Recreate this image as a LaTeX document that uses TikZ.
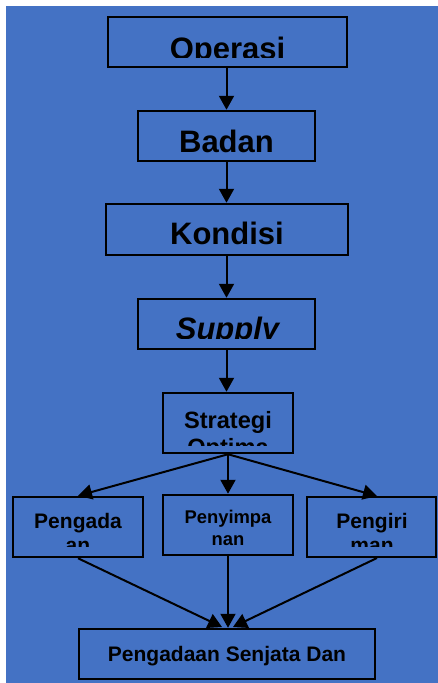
\documentclass[tikz,border=0pt]{standalone}
\usepackage{fontspec}
\setmainfont{Liberation Sans}
\usetikzlibrary{arrows.meta}
\definecolor{bgblue}{HTML}{4472C4}
\begin{document}
\begin{tikzpicture}[x=1pt,y=-1pt,
  box/.style={draw=black, line width=2.5pt, inner sep=0pt},
  arr/.style={draw=black, line width=2pt, -{Triangle[width=15pt,length=14pt]}},
  lbl/.style={inner sep=0pt, anchor=base, text=black},
  bigf/.style={font=\fontsize{31}{36}\selectfont\bfseries},
  stf/.style={font=\fontsize{23.6}{28}\selectfont\bfseries},
  midf/.style={font=\fontsize{21}{25}\selectfont\bfseries},
  smf/.style={font=\fontsize{18.4}{22}\selectfont\bfseries}]
\useasboundingbox (0,0) rectangle (438,683);
\fill[white] (0,0) rectangle (438,683);
\fill[bgblue] (6,6) rectangle (438,683);

% boxes
\node[box, minimum width=239pt, minimum height=50pt] (op) at (227.5,42) {};
\node[box, minimum width=177pt, minimum height=50pt] (bd) at (226.5,136) {};
\node[box, minimum width=242pt, minimum height=51pt] (kd) at (227,229.5) {};
\node[box, minimum width=177pt, minimum height=50pt] (sp) at (226.5,324) {};
\node[box, minimum width=130pt, minimum height=60pt] (st) at (228,423) {};
\node[box, minimum width=130pt, minimum height=60pt] (pa) at (78,527) {};
\node[box, minimum width=130pt, minimum height=60pt] (pn) at (228,525) {};
\node[box, minimum width=129pt, minimum height=60pt] (pg) at (371.5,527) {};
\node[box, minimum width=296pt, minimum height=50pt] (ps) at (227,654) {};

% texts (clipped as in the reference)
\begin{scope}
  \clip (100,10) rectangle (350,57);
  \node[lbl, bigf] (t-op) at (227.5,59) {Operasi};
\end{scope}
\node[lbl, bigf] (t-bd) at (226.5,152.5) {Badan};
\node[lbl, bigf] (t-kd) at (227,244.5) {Kondisi};
\begin{scope}
  \clip (130,290) rectangle (320,338);
  \node[lbl, bigf] (t-sp) at (227.5,339) {\itshape Supply};
\end{scope}
\begin{scope}
  \clip (160,390) rectangle (296,445);
  \node[lbl, stf] (t-st1) at (228,428) {Strategi};
  \node[lbl, stf] (t-st2) at (228,455) {Optima};
\end{scope}
\begin{scope}
  \clip (10,494) rectangle (146,546.5);
  \node[lbl, midf] (t-pa1) at (78,528) {Pengada};
  \node[lbl, midf] (t-pa2) at (78,552) {an};
\end{scope}
\node[lbl, smf] (t-pn1) at (228,523) {Penyimpa};
\node[lbl, smf] (t-pn2) at (228,545) {nan};
\begin{scope}
  \clip (304,494) rectangle (438,546.5);
  \node[lbl, midf] (t-pg1) at (372,528) {Pengiri};
  \node[lbl, midf] (t-pg2) at (372,552) {man};
\end{scope}
\begin{scope}
  \clip (76,626) rectangle (378,681);
  \node[lbl, midf] (t-ps) at (227,661) {Pengadaan Senjata Dan};
\end{scope}

% connectors
\coordinate (pgin) at (377,496);
\coordinate (pgout) at (377,558);
\coordinate (psl) at (222,627);
\coordinate (psr) at (233,627);
\draw[arr] (op.south -| bd.north) -- (bd.north);
\draw[arr] (bd.south) -- (bd.south |- kd.north);
\draw[arr] (bd.south |- kd.south) -- (sp.north);
\draw[arr] (sp.south) -- (sp.south |- st.north);
\draw[arr] (st.south) -- (pa.north);
\draw[arr] (st.south) -- (pn.north);
\draw[arr] (st.south) -- (pgin);
\draw[arr] (pa.south) -- (psl);
\draw[arr] (pn.south) -- (pn.south |- ps.north);
\draw[arr] (pgout) -- (psr);
\end{tikzpicture}
\end{document}
